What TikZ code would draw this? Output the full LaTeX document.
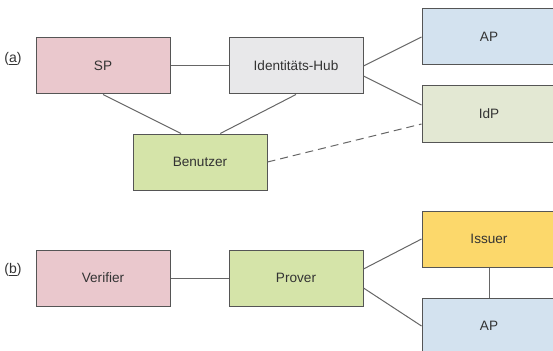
\documentclass[tikz,border=0pt]{standalone}
\usepackage{fontspec}
\setmainfont{Liberation Sans}
\usetikzlibrary{calc}

\definecolor{rahmen}{HTML}{555555}
\definecolor{schrift}{HTML}{333333}
\definecolor{rosa}{HTML}{EAC8CD}
\definecolor{grau}{HTML}{E8E8EA}
\definecolor{blau}{HTML}{D3E2EF}
\definecolor{oliv}{HTML}{E3E8D3}
\definecolor{gruen}{HTML}{D5E4A9}
\definecolor{gelb}{HTML}{FCD86B}

\begin{document}
\begin{tikzpicture}[x=1pt, y=-1pt,
		box/.style={draw=rahmen, line width=1pt, minimum width=134pt, minimum height=56pt,
			inner sep=0pt, text=schrift, font=\fontsize{13.6}{15}\selectfont},
		verb/.style={draw=rahmen!90, line width=1pt},
		teil/.style={text=schrift, font=\fontsize{14}{16}\selectfont}]
			%%%%% START %%%%%
			\useasboundingbox (0, 0) rectangle (553, 350);
			\clip (0, 0) rectangle (553, 350);
			
			% (a) Identitaets-Hub
			\node[teil] (la) at (13, 59) {(\underline{a})};
			\node[box, fill=rosa] (sp) at (103, 66) {SP};
			\node[box, fill=grau] (hub) at (296, 66) {Identitäts-Hub};
			\node[box, fill=blau] (ap) at (489, 37) {AP};
			\node[box, fill=oliv] (idp) at (489, 114) {IdP};
			\node[box, fill=gruen] (ben) at (200, 162) {Benutzer};
			
			\draw[verb] (sp.east) -- (hub.west);
			\draw[verb] (sp.south) -- ($(ben.north west)!0.36!(ben.north east)$);
			\draw[verb] (hub.south) -- ($(ben.north west)!0.65!(ben.north east)$);
			\draw[verb] (hub.east) -- (ap.west);
			\draw[verb] ($(hub.east)+(0, 10)$) -- ($(idp.west)+(0, -9)$);
			\draw[verb, dash pattern=on 8pt off 5pt] (ben.east) -- ($(idp.west)+(0, 10)$);
			
			% (b) Verifier / Prover
			\node[teil] (lb) at (13, 270) {(\underline{b})};
			\node[box, fill=rosa] (ver) at (103, 278) {Verifier};
			\node[box, fill=gruen] (pro) at (296, 278) {Prover};
			\node[box, fill=gelb] (iss) at (489, 239) {Issuer};
			\node[box, fill=blau] (ap2) at (489, 326) {AP};
			
			\draw[verb] (ver.east) -- (pro.west);
			\draw[verb] ($(pro.east)+(0, -9)$) -- (iss.west);
			\draw[verb] ($(pro.east)+(0, 10)$) -- (ap2.west);
			\draw[verb] (iss.south) -- (ap2.north);
			%%%%% END %%%%%
		\end{tikzpicture}
\end{document}
